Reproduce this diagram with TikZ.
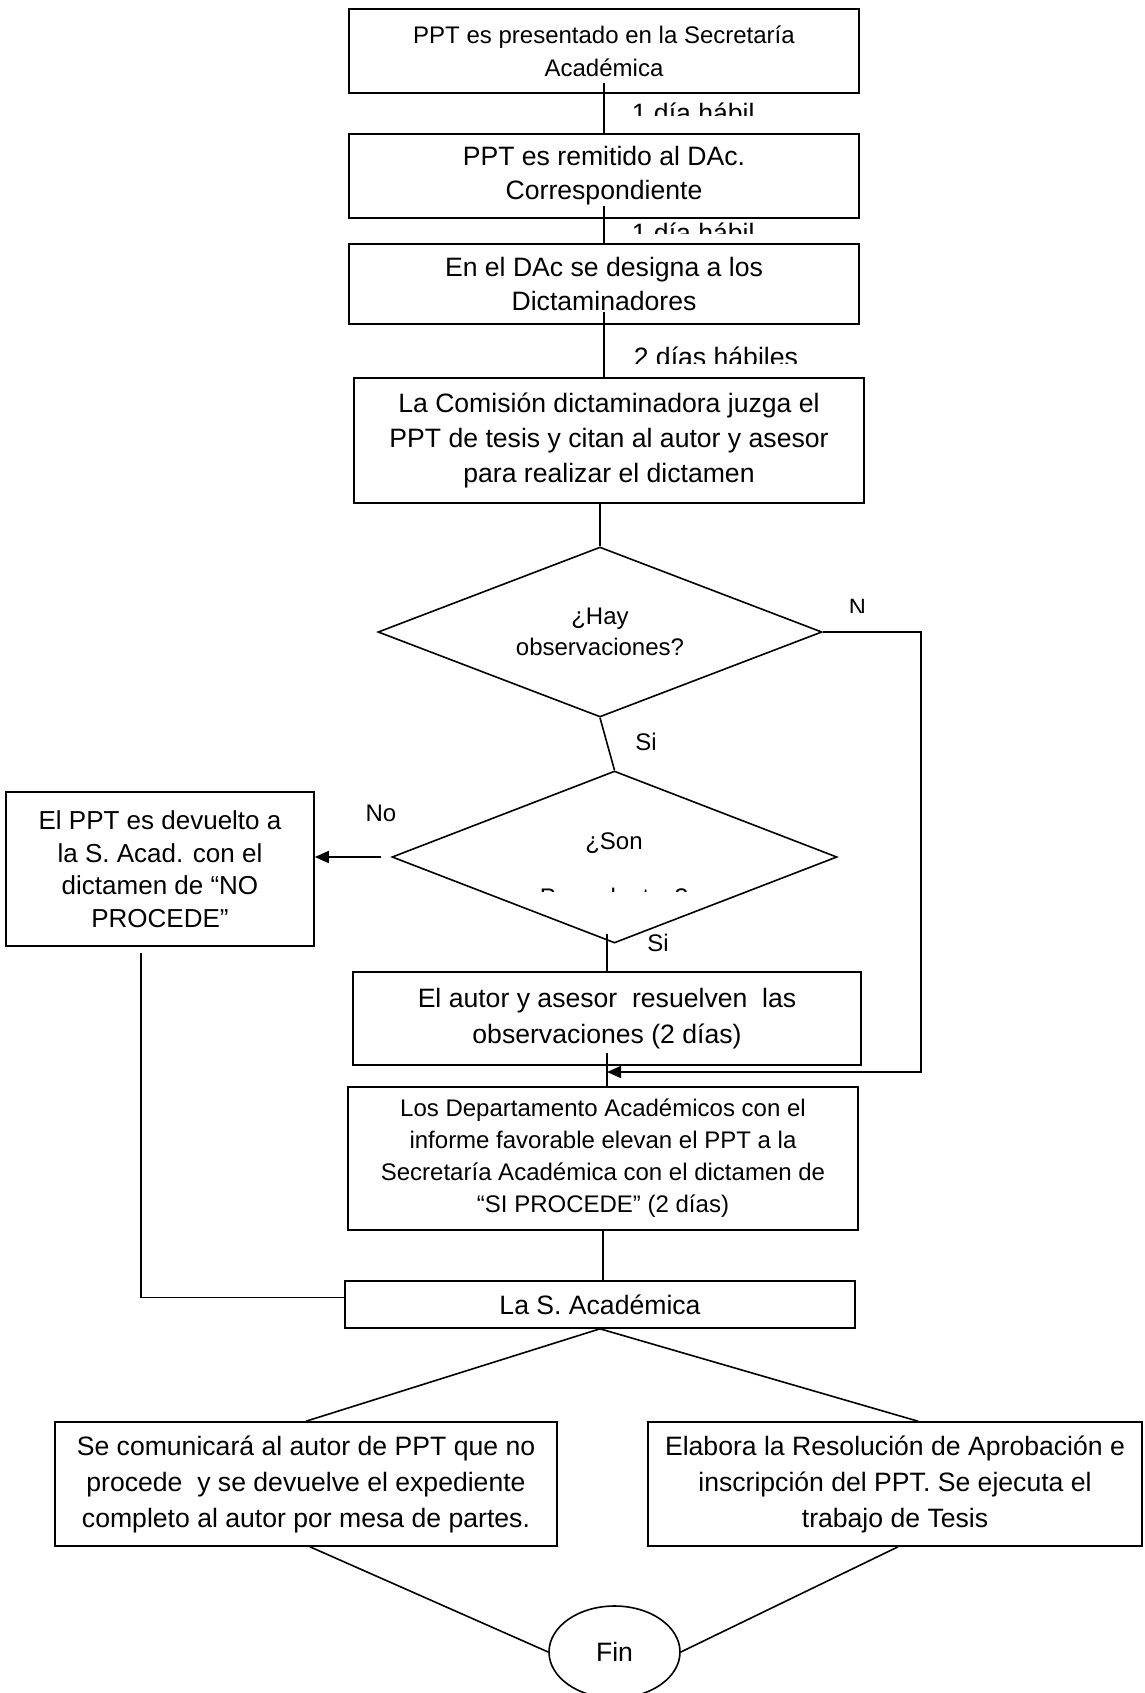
\documentclass[tikz,border=0pt]{standalone}
\usepackage{fontspec}
\setmainfont{Liberation Sans}
\usetikzlibrary{shapes.geometric, arrows.meta}

\begin{document}
\begin{tikzpicture}[x = 0.5pt, y = -0.5pt, line width = 0.8pt,
		proc/.style = {draw, rectangle, inner sep = 0pt, align = center, minimum width = 255pt, font = \fontsize{13.3}{17.5}\selectfont},
		decis/.style = {draw, diamond, inner sep = 0pt},
		term/.style = {draw, ellipse, inner sep = 0pt, font = \fontsize{13.3}{16}\selectfont},
		dias/.style = {anchor = base west, inner sep = 0pt, font = \fontsize{13.3}{16}\selectfont},
		rama/.style = {inner sep = 0pt, font = \fontsize{12}{14}\selectfont},
		preg/.style = {inner sep = 0pt, align = center, font = \fontsize{12}{15.5}\selectfont},
		flecha/.style = {-{Triangle[length = 7pt, width = 6pt]}}]

			\useasboundingbox (0,0) rectangle (1145,1693);

			\begin{scope}
				\node [proc, minimum height = 42pt, font = \fontsize{12}{16.5}\selectfont] (b1) at (604,51) {PPT es presentado en la Secretaría\\Académica};
				\node [proc, minimum height = 42pt, font = \fontsize{13.3}{17}\selectfont] (b2) at (604,176) {PPT es remitido al DAc.\\Correspondiente};
				\node [proc, minimum height = 40pt, font = \fontsize{13.3}{17}\selectfont] (b3) at (604,284) {En el DAc se designa a los\\Dictaminadores};
				\node [proc, minimum height = 62.5pt] (b4) at (609,440.5) {La Comisión dictaminadora juzga el\\PPT de tesis y citan al autor y asesor\\para realizar el dictamen};
			\end{scope}

			\begin{scope}
				\node [decis, minimum width = 222pt, minimum height = 85pt] (d1) at (600,632) {};
				\node [preg] (d1t) at (d1) {¿Hay\\observaciones?};

				\node [decis, minimum width = 222.5pt, minimum height = 86pt] (d2) at (614.5,857) {};
				\node [preg] (d2t) at (614,843) {¿Son};
			\end{scope}

			\begin{scope}
				\node [proc, minimum width = 154pt, minimum height = 77pt, font = \fontsize{13}{16.25}\selectfont] (lb) at (160,869) {El PPT es devuelto a\\la S. Acad. con el\\dictamen de “NO\\PROCEDE”};
				\node [proc, minimum width = 254pt, minimum height = 46.5pt, font = \fontsize{13.3}{18}\selectfont] (b5) at (607,1018.5) {El autor y asesor\ \ resuelven\ \ las\\observaciones (2 días)};
				\node [proc, minimum height = 71.5pt, font = \fontsize{12}{16}\selectfont] (b6) at (603,1158.5) {Los Departamento Académicos con el\\informe favorable elevan el PPT a la\\Secretaría Académica con el dictamen de\\“SI PROCEDE” (2 días)};
				\node [proc, minimum height = 23.5pt] (b7) at (600,1304.5) {La S. Académica};
			\end{scope}

			\begin{scope}
				\node [proc, minimum width = 251pt, minimum height = 62pt, font = \fontsize{13.3}{18}\selectfont] (b8) at (306,1484) {Se comunicará al autor de PPT que no\\procede\ \ y se devuelve el expediente\\completo al autor por mesa de partes.};
				\node [proc, minimum width = 247pt, minimum height = 62pt, font = \fontsize{13.3}{18}\selectfont] (b9) at (895,1484) {Elabora la Resolución de Aprobación e\\inscripción del PPT. Se ejecuta el\\trabajo de Tesis};
				\node [term, minimum width = 65.5pt, minimum height = 46pt] (fin) at (614.5,1652) {Fin};
			\end{scope}

			\begin{scope}
				\draw (b1.south) ++(0,-11) -- (b2.north);
				\draw (b2.south) ++(0,-13) -- (b3.north);
				\draw (b3.south) ++(0,-13) -- (b3.south |- b4.north);
				\draw (d1.north |- b4.south) -- (d1.north);
				\draw (d1.south) -- (d2.north);
				\draw (b5.north) -- ++(0,-37);
				\draw (b5.south) ++(0,-13) -- (b5.south |- b6.north);
				\draw (b6.south) -- (b6.south |- b7.north);
				\draw (lb.south) ++(-19,6) |- ([yshift = 3.5pt]b7.west);
				\draw (b7.south) -- (b8.north);
				\draw (b7.south) -- ([xshift = 11.5pt]b9.north);
				\draw (b8.south) ++(4,0) -- (fin.west);
				\draw (b9.south) ++(3,0) -- (fin.east);
			\end{scope}

			\begin{scope}[flecha]
				\coordinate (rt) at (921,632);
				\coordinate (jn) at (607,1072);
				\draw (d1.east) -- (rt) |- (jn);
				\draw (d2.west) ++(-10,0) -- (lb.east |- d2.west);
			\end{scope}

			\begin{scope}
				\node [rama] (si1) at (646,742) {Si};
				\node [rama] (si2) at (658,943) {Si};
				\node [rama] (no1) at (381,813) {No};
			\end{scope}

			\begin{scope}
				\clip (620,95) rectangle (770,115);
				\node [dias] (h1) at (631,122) {1 día hábil};
			\end{scope}
			\begin{scope}
				\clip (620,215) rectangle (770,233);
				\node [dias] (h2) at (631,242) {1 día hábil};
			\end{scope}
			\begin{scope}
				\clip (620,335) rectangle (810,363);
				\node [dias] (h3) at (633,366) {2 días hábiles};
			\end{scope}
			\begin{scope}
				\clip (840,590) rectangle (864,612);
				\node [dias, font = \fontsize{11.8}{14}\selectfont] (no2) at (848,615) {No};
			\end{scope}
			\begin{scope}
				\clip (520,886) rectangle (710,891);
				\node [preg, anchor = base] (d2u) at (614,905) {Procedentes?};
			\end{scope}
		\end{tikzpicture}
\end{document}
